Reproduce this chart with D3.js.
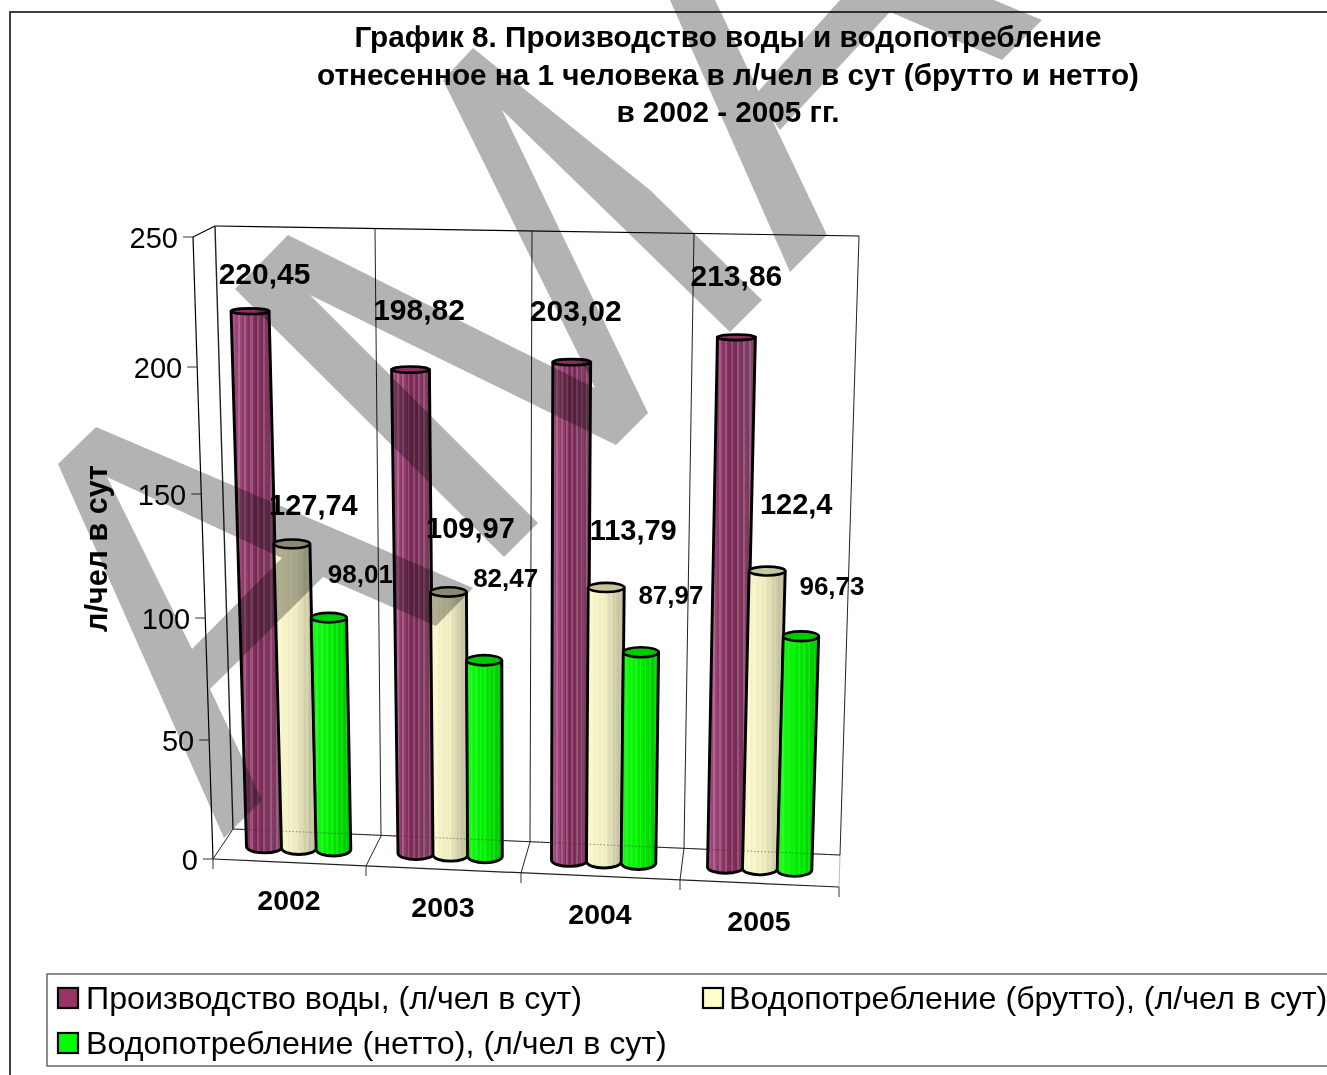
<!DOCTYPE html>
<html lang="ru"><head><meta charset="utf-8">
<title>График 8</title>
<script src="https://cdn.jsdelivr.net/npm/d3@7"></script>
<style>html,body{margin:0;padding:0;background:#fff;overflow:hidden}svg{display:block;font-family:"Liberation Sans",Arial,sans-serif}</style>
</head><body><div id="chart"></div>
<script>
const titleLines = ["График 8. Производство воды и водопотребление","отнесенное на 1 человека в л/чел в сут (брутто и нетто)","в 2002 - 2005 гг."];
const yearsList = [2002, 2003, 2004, 2005];
const seriesNames = ["Производство воды, (л/чел в сут)","Водопотребление (брутто), (л/чел в сут)","Водопотребление (нетто), (л/чел в сут)"];
const production = [220.45, 198.82, 203.02, 213.86];
const gross = [127.74, 109.97, 113.79, 122.4];
const net = [98.01, 82.47, 87.97, 96.73];
const labelTexts = [["220,45","198,82","203,02","213,86"],["127,74","109,97","113,79","122,4"],["98,01","82,47","87,97","96,73"]];
const valueTicks = [0, 50, 100, 150, 200, 250];

// layout (not data)
const W = 1327, H = 1075;
const labelDx = [[14.5,8.5,4,0],[21.5,22,27,29],[31.5,21.5,30,31]];
const labelDy = [[-27,-50,-41,-51],[-29,-54,-47,-57],[-35,-73,-48,-41]];
const labelSize = [30, 29, 26];
const ramps = [["#b0558b","#7f2a57","#85486c"],["#fffccf","#f0eec2","#b9b795"],["#1cff1c","#00f000","#00c400"]];
const tops = ["#8a2f5e","#c6c5a0","#00c800"];
const legendFill = ["#993366","#ffffcc","#00ff00"];

const svg = d3.select("#chart").append("svg").attr("width", W).attr("height", H).attr("viewBox", `0 0 ${W} ${H}`);

// scales
const heightScale = d3.scaleLinear().domain(valueTicks).range([0,119,241,365,492,622]);
const depthScale = d3.scaleLinear().domain([2002,2005]).range([0.982,1.003]);
const groupX = d3.scaleLinear().domain(yearsList).range([299,450.5,604,760]);
const seriesX = d3.scalePoint().domain([0,1,2]).range([-34.5,34.5]);
const baseY = d3.scaleLinear().domain([264,795]).range([846.5,870]);
const seriesR = [18, 17.5, 17.3];
const FOCUS = 526, VANISH = 9700;
const wallX = d3.scaleLinear().domain([237,859]).range([193,213]);
const tickY = d3.scaleLinear().domain(valueTicks).range([859,740,618,494,367,237]);
const floorFront = d3.scaleLinear().domain([0,1,2,3,4]).range([213,366,521,680,839]);
const floorFrontY = d3.scaleLinear().domain([0,1,2,3,4]).range([859,866,873,880,887]);
const floorBack = d3.scaleLinear().domain([0,1,2,3,4]).range([233,381,530,684,840]);
const floorBackY = d3.scaleLinear().domain([0,1,2,3,4]).range([829,836,842,848,855]);
const wallTop = d3.scaleLinear().domain([0,1,2,3,4]).range([215,375,532,694,859]);
const wallTopY = d3.scaleLinear().domain([0,4]).range([226,236]);
const catIdx = d3.range(5);

// gradients
const defs = svg.append("defs");
ramps.forEach((r,i)=>{
  const col = d3.scaleLinear().domain([0,0.5,1]).range(r).interpolate(d3.interpolateRgb);
  const g = defs.append("linearGradient").attr("id","cyl"+i).attr("x1",0).attr("x2",1).attr("y1",0).attr("y2",0);
  const N = 24;
  d3.range(N).forEach(k=>{
    let c = d3.color(col((k+.5)/N));
    if(k%3===0) c = d3.interpolateRgb(c,"#ffffff")(i===0?0.16:0.1);
    if(k%3===2) c = c.darker(i===0?0.22:0.06);
    g.append("stop").attr("offset",k/N).attr("stop-color",c);
    g.append("stop").attr("offset",(k+1)/N).attr("stop-color",c);
  });
});

// outer frame
svg.append("path").attr("d",`M10,${H} V12 H${W}`).attr("fill","none").attr("stroke","#404040").attr("stroke-width",2);

// title
svg.append("g").selectAll("text").data(titleLines).join("text")
  .attr("x",728).attr("y",(d,i)=>47+i*37.5).attr("text-anchor","middle")
  .attr("font-size",29.7).attr("font-weight","bold").text(d=>d);

// walls and floor
const axes = svg.append("g").attr("fill","none").attr("stroke","#000").attr("stroke-width",1.2);
const seg = (x1,y1,x2,y2,c,w)=>axes.append("line").attr("x1",x1).attr("y1",y1).attr("x2",x2).attr("y2",y2).attr("stroke",c||"#000").attr("stroke-width",w||1.2);
seg(wallX(237),237,wallX(859),859);
seg(wallX(237),237,wallTop(0),wallTopY(0));
seg(wallTop(0),wallTopY(0),wallTop(4),wallTopY(4));
catIdx.forEach(i=>{
  seg(wallTop(i),wallTopY(i),floorBack(i),floorBackY(i),"#222",i===0?1.4:1);
  seg(floorFront(i),floorFrontY(i),floorBack(i),floorBackY(i),i===4?"#bbb":"#222",1);
  seg(floorFront(i),floorFrontY(i),floorFront(i),floorFrontY(i)+10,"#333",1);
});
seg(floorFront(0),floorFrontY(0),floorFront(4),floorFrontY(4),"#222",1.2);
seg(floorBack(0),floorBackY(0),floorBack(4),floorBackY(4),"#222",1);

// value axis
const yAxis = svg.append("g");
yAxis.selectAll("line").data(valueTicks).join("line")
  .attr("x1",d=>wallX(tickY(d))-10).attr("x2",d=>wallX(tickY(d)))
  .attr("y1",d=>tickY(d)).attr("y2",d=>tickY(d)).attr("stroke","#333").attr("stroke-width",1);
yAxis.selectAll("text").data(valueTicks).join("text")
  .attr("x",d=>wallX(tickY(d))-15).attr("y",d=>tickY(d)+10.5).attr("text-anchor","end")
  .attr("font-size",29).text(d=>d);
svg.append("text").attr("transform","translate(107,548.5) rotate(-90)").attr("text-anchor","middle")
  .attr("font-size",30.5).attr("font-weight","bold").text("л/чел в сут");

// category labels
const catLabelX = d3.scaleLinear().domain(yearsList).range([289,443,600,759]);
const catLabelY = d3.scaleLinear().domain(yearsList).range([910,917,924,931]);
svg.append("g").selectAll("text").data(yearsList).join("text")
  .attr("x",d=>catLabelX(d)).attr("y",d=>catLabelY(d)).attr("text-anchor","middle")
  .attr("font-size",28.5).attr("font-weight","bold").text(d=>d);

// cylinders
const allSeries = [production, gross, net];
const project = (xb, yb, h, R) => { const s = 1 + h/VANISH; return {x: FOCUS + (xb-FOCUS)*s, y: yb-h, r: R*s}; };
const ryAt = h => 6.4 - h/150;
const bars = [];
yearsList.forEach((yr,j)=>allSeries.forEach((vals,i)=>{
  const xb = groupX(yr)+seriesX(i), yb = baseY(xb);
  const h = heightScale(vals[j])*depthScale(yr);
  bars.push({i,j,xb,yb,h,top:project(xb,yb,h,seriesR[i]),base:project(xb,yb,0,seriesR[i])});
}));
const bg = svg.append("g");
bg.selectAll("path.body").data(bars).join("path").attr("class","body")
  .attr("d",d=>{
    const ry0 = ryAt(0);
    return `M${d.top.x-d.top.r},${d.top.y} L${d.base.x-d.base.r},${d.base.y} A${d.base.r},${ry0} 0 0 0 ${d.base.x+d.base.r},${d.base.y} L${d.top.x+d.top.r},${d.top.y} Z`;
  })
  .attr("fill",d=>`url(#cyl${d.i})`).attr("stroke","#000").attr("stroke-width",2.9).attr("stroke-linejoin","round");
bg.selectAll("ellipse").data(bars).join("ellipse")
  .attr("cx",d=>d.top.x).attr("cy",d=>d.top.y).attr("rx",d=>d.top.r).attr("ry",d=>ryAt(d.h))
  .attr("fill",d=>tops[d.i]).attr("stroke","#000").attr("stroke-width",2.6);

// faint back-floor line seen through the cylinders
svg.append("line").attr("x1",floorBack(0)).attr("y1",floorBackY(0)).attr("x2",floorBack(4)).attr("y2",floorBackY(4))
  .attr("stroke","#333").attr("stroke-width",1).attr("stroke-dasharray","1.5 2").attr("opacity",.55);

// data labels
svg.append("g").selectAll("text").data(bars).join("text")
  .attr("x",d=>d.top.x+labelDx[d.i][d.j]).attr("y",d=>d.top.y+labelDy[d.i][d.j])
  .attr("text-anchor","middle").attr("font-weight","bold").attr("font-size",d=>labelSize[d.i])
  .text(d=>labelTexts[d.i][d.j]);

// legend
svg.append("path").attr("d",`M${W},974 H47 V1066 H${W}`).attr("fill","none").attr("stroke","#666").attr("stroke-width",1.5);
const legendX = [57,702,57], legendY = [987,987,1032], legendTextDx = [29,27,29];
const lg = svg.append("g").selectAll("g").data(seriesNames).join("g").attr("transform",(d,i)=>`translate(${legendX[i]},${legendY[i]})`);
lg.append("rect").attr("x",1).attr("y",1).attr("width",20).attr("height",20).attr("fill",(d,i)=>legendFill[i]).attr("stroke","#000").attr("stroke-width",2.2);
lg.append("text").attr("x",(d,i)=>legendTextDx[i]).attr("y",21.5).attr("font-size",32.2).text(d=>d);

// watermark overlay (decorative, multiplied over everything)
const wm = svg.append("g").attr("fill","#b3b3b3").style("mix-blend-mode","multiply");
const glyphs = [
 "M96,427 L473,588 L436,626 L323,577 L210,689 L262,800 L224,838 L58,464 Z M107,477 L192,649 L282,558 Z",
 "M288,235 L595,388 L443,80 L473,48 L650,190 L762,300 L730,332 L502,110 L648,413 L616,445 L310,295 L538,523 L504,557 L235,289 Z",
 "M670,0 L715,0 L827,235 L790,272 Z",
 "M840,0 L994,0 L1042,20 L1002,60 L890,12 L780,130 L755,95 Z"
];
wm.selectAll("path").data(glyphs).join("path").attr("d",d=>d).attr("fill-rule","evenodd");
</script></body></html>
